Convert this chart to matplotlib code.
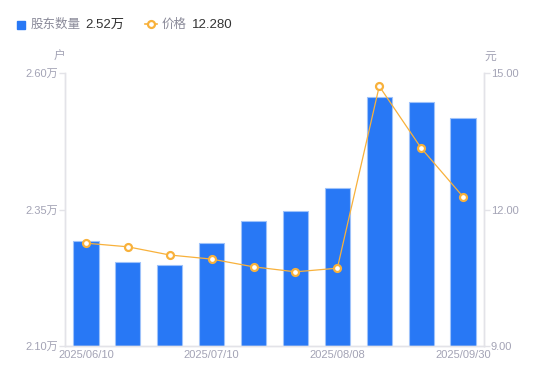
import matplotlib
matplotlib.use('Agg')
import matplotlib.pyplot as plt
from matplotlib.lines import Line2D

plt.rcParams['font.family'] = ['Liberation Sans', 'Noto Sans CJK SC', 'DejaVu Sans']

dates = ['2025/06/10', '2025/06/20', '2025/06/30', '2025/07/10', '2025/07/20',
         '2025/07/31', '2025/08/08', '2025/08/20', '2025/09/10', '2025/09/30']
holders = [2.292, 2.254, 2.248, 2.289, 2.329, 2.347, 2.389, 2.556, 2.547, 2.518]  # 万户
price = [11.26, 11.18, 11.00, 10.91, 10.74, 10.63, 10.71, 14.71, 13.35, 12.28]
shown_dates = [0, 3, 6, 9]

BLUE = '#2878f5'
ORANGE = '#f8b13b'
GRAY = '#a3a3b5'
AXIS = '#e3e3e8'

fig = plt.figure(figsize=(5.5, 3.81), dpi=100)
ax = fig.add_axes([65 / 550, 35 / 381, 419 / 550, 273 / 381])
ax2 = ax.twinx()

x = range(len(dates))
ax.bar(x, holders, width=0.6, color=BLUE, edgecolor='#9ec2fa', linewidth=0.8, bottom=0)
ax.set_ylim(2.10, 2.60)
ax.set_xlim(-0.5, len(dates) - 0.5)
ax.set_yticks([2.10, 2.35, 2.60])
ax.set_yticklabels(['%.2f万' % v for v in [2.10, 2.35, 2.60]])
ax.set_xticks(shown_dates)
ax.set_xticklabels([dates[i] for i in shown_dates])

ax2.plot(x, price, color=ORANGE, lw=0.9, marker='o', ms=5,
         markerfacecolor='white', markeredgecolor=ORANGE, markeredgewidth=1.6, zorder=5)
ax2.set_ylim(9, 15)
ax2.set_yticks([9, 12, 15])
ax2.set_yticklabels(['%.2f' % v for v in [9, 12, 15]])

for a in (ax, ax2):
    for s in a.spines.values():
        s.set_color(AXIS)
        s.set_linewidth(1)
    a.spines['top'].set_visible(False)
    a.tick_params(axis='y', colors=AXIS, labelcolor=GRAY, labelsize=8, length=4, width=1, pad=1)
    a.tick_params(axis='x', length=0, labelcolor=GRAY, labelsize=8, pad=3)

fig.text(59 / 550, 1 - 57 / 381, '户', color=GRAY, fontsize=8.5, ha='center', va='center')
fig.text(490 / 550, 1 - 57 / 381, '元', color=GRAY, fontsize=8.5, ha='center', va='center')

# legend
ly = 1 - 25 / 381
fig.patches.append(plt.Rectangle((17 / 550, 1 - 29 / 381), 8 / 550, 8 / 381,
                                 transform=fig.transFigure, color=BLUE))
fig.text(31 / 550, ly, '股东数量', color='#8a8a99', fontsize=9, va='center')
fig.text(85 / 550, ly, '%.2f万' % holders[-1], color='#333333', fontsize=9.5, va='center')
fig.lines.append(Line2D([145 / 550, 157 / 550], [1 - 24 / 381] * 2, transform=fig.transFigure,
                        color=ORANGE, lw=1.2))
fig.lines.append(Line2D([151 / 550], [1 - 24 / 381], transform=fig.transFigure, marker='o', ms=5,
                        markerfacecolor='white', markeredgecolor=ORANGE, markeredgewidth=1.6))
fig.text(162 / 550, ly, '价格', color='#8a8a99', fontsize=9, va='center')
fig.text(192 / 550, ly, '%.3f' % price[-1], color='#333333', fontsize=9.5, va='center')

fig.savefig('out.png', dpi=100)
